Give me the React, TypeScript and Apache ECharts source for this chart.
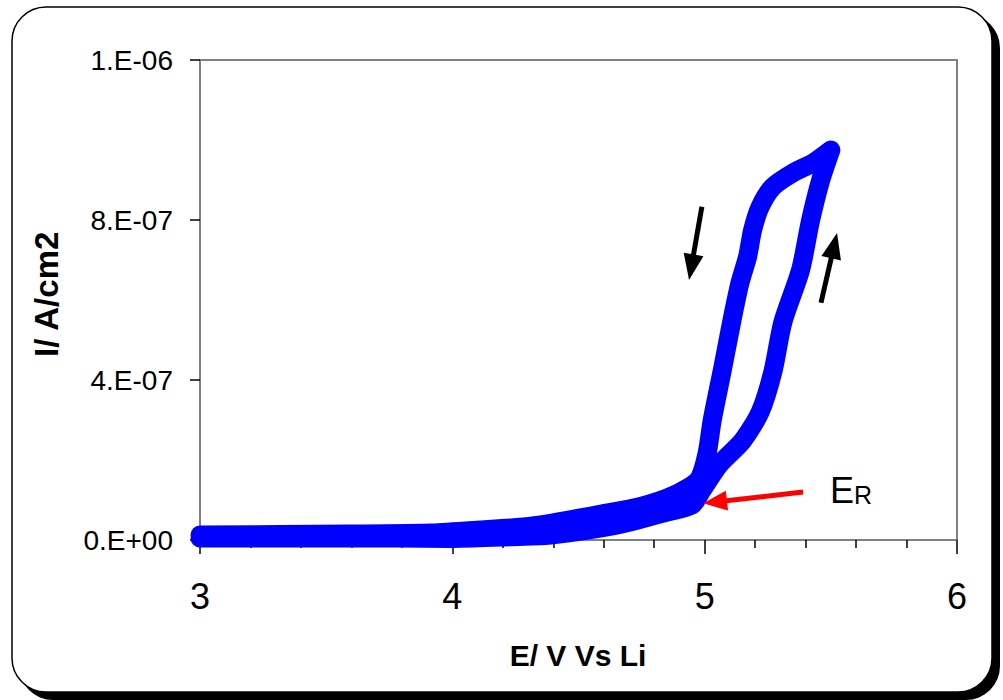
import React, { useEffect, useRef } from "react";
import * as echarts from "echarts";

// Anodic scan (3 V -> 5.5 V), potential in V and current density in A/cm2
const forwardE = [3.0, 3.4, 3.79, 3.99, 4.19, 4.39, 4.59, 4.72, 4.85, 4.95, 4.99, 5.06, 5.15, 5.22, 5.27, 5.31, 5.38, 5.42, 5.46, 5.5];
const forwardI = [5e-9, 5e-9, 5e-9, 4e-9, 7.5e-9, 1.25e-8, 3.0e-8, 4.75e-8, 7.0e-8, 8.75e-8, 1.25e-7, 1.9e-7, 2.48e-7, 3.2e-7, 4.2e-7, 5.45e-7, 6.75e-7, 8.0e-7, 9.0e-7, 9.75e-7];

// Cathodic scan (5.5 V -> 3 V)
const reverseE = [5.43, 5.35, 5.27, 5.22, 5.19, 5.17, 5.14, 5.11, 5.07, 5.03, 5.01, 4.98, 4.94, 4.85, 4.72, 4.59, 4.32, 4.11, 3.92, 3.59, 3.0];
const reverseI = [9.43e-7, 9.18e-7, 8.83e-7, 8.33e-7, 7.75e-7, 7.08e-7, 6.43e-7, 5.55e-7, 4.25e-7, 3.0e-7, 2.18e-7, 1.55e-7, 1.33e-7, 1.05e-7, 8.0e-8, 6.5e-8, 3.5e-8, 2.5e-8, 1.75e-8, 1.5e-8, 1.25e-8];

// Scan-direction arrows and the E_R pointer: [startE, startI, headE, headI]
const downArrow = [4.989, 8.33e-7, 4.947, 6.82e-7];
const upArrow = [5.461, 5.93e-7, 5.513, 7.36e-7];
const erArrow = [5.39, 1.2e-7, 5.041, 9.5e-8];

const xMin = 3;
const xMax = 6;
const yMax = 1.2e-6;
const yStep = 4e-7;

const FONT = "'Liberation Sans', Arial, sans-serif";

function sciLabel(v: number): string {
  if (Math.abs(v) < 1e-15) return "0.E+00";
  let e = Math.floor(Math.log10(Math.abs(v)));
  let m = Math.round(v / Math.pow(10, e));
  if (m >= 10) {
    m = 1;
    e += 1;
  }
  const sign = e < 0 ? "-" : "+";
  return `${m}.E${sign}${String(Math.abs(e)).padStart(2, "0")}`;
}

function arrowLine(a: number[], color: string, head: number[]) {
  return [
    { coord: [a[0], a[1]], symbol: "none" },
    { coord: [a[2], a[3]], symbol: "triangle", symbolSize: head, lineStyle: { color, width: 5, type: "solid" } },
  ];
}

export default function App() {
  const ref = useRef<HTMLDivElement>(null);

  useEffect(() => {
    if (!ref.current) return;
    const chart = echarts.init(ref.current, null, { renderer: "svg" });

    const loop: number[][] = [];
    forwardE.forEach((e, i) => loop.push([e, forwardI[i]]));
    reverseE.forEach((e, i) => loop.push([e, reverseI[i]]));

    chart.setOption({
      animation: false,
      backgroundColor: "#ffffff",
      graphic: [
        {
          type: "rect",
          z: -10,
          shape: { x: 19, y: 14, width: 981, height: 686, r: 34 },
          style: { fill: "#000000" },
          silent: true,
        },
        {
          type: "rect",
          z: -9,
          shape: { x: 12, y: 7, width: 980, height: 685, r: 34 },
          style: { fill: "#ffffff", stroke: "#000000", lineWidth: 1.5 },
          silent: true,
        },
        {
          type: "text",
          x: 578,
          y: 655,
          style: {
            text: "E/ V Vs Li",
            font: `bold 30px ${FONT}`,
            fill: "#000000",
            align: "center",
            verticalAlign: "middle",
          },
        },
        {
          type: "text",
          x: 46,
          y: 357,
          rotation: Math.PI / 2,
          style: {
            text: "I/ A/cm2",
            font: `bold 33px ${FONT}`,
            fill: "#000000",
            align: "left",
            verticalAlign: "middle",
          },
        },
        {
          type: "text",
          x: 830,
          y: 508,
          style: {
            text: "{e|E}{r|R}",
            fill: "#000000",
            align: "left",
            verticalAlign: "bottom",
            rich: {
              e: { fontFamily: FONT, fontSize: 36, verticalAlign: "bottom", fill: "#000000" },
              r: { fontFamily: FONT, fontSize: 25, verticalAlign: "bottom", fill: "#000000", padding: [0, 0, 1, 0] },
            },
          },
        },
      ],
      grid: {
        left: 200,
        top: 60,
        width: 757,
        height: 480,
        show: true,
        borderColor: "#808080",
        borderWidth: 2,
        backgroundColor: "transparent",
      },
      xAxis: {
        type: "value",
        min: xMin,
        max: xMax,
        interval: 1,
        axisLine: { show: true, onZero: false, lineStyle: { color: "#808080", width: 2 } },
        axisTick: { show: true, length: 14, lineStyle: { color: "#000000", width: 1.5 } },
        minorTick: { show: true, splitNumber: 5, length: 8, lineStyle: { color: "#000000", width: 1.5 } },
        splitLine: { show: false },
        axisLabel: { fontFamily: FONT, fontSize: 36, color: "#000000", margin: 38 },
      },
      yAxis: {
        type: "value",
        min: 0,
        max: yMax,
        interval: yStep,
        axisLine: { show: true, lineStyle: { color: "#808080", width: 2 } },
        axisTick: { show: true, length: 10, lineStyle: { color: "#000000", width: 1.5 } },
        splitLine: { show: false },
        axisLabel: {
          fontFamily: FONT,
          fontSize: 28,
          color: "#000000",
          margin: 27,
          formatter: (v: number) => sciLabel(v),
        },
      },
      series: [
        {
          type: "line",
          data: loop,
          showSymbol: false,
          symbol: "none",
          smooth: 0.25,
          lineStyle: { color: "#0000ff", width: 19, cap: "round", join: "round" },
          silent: true,
          z: 2,
        },
        {
          type: "line",
          data: [],
          silent: true,
          z: 5,
          markLine: {
            silent: true,
            animation: false,
            label: { show: false },
            emphasis: { disabled: true },
            data: [
              arrowLine(downArrow, "#000000", [20, 26]),
              arrowLine(upArrow, "#000000", [20, 26]),
              arrowLine(erArrow, "#ff0000", [20, 24]),
            ],
          },
        },
      ],
    });

    return () => chart.dispose();
  }, []);

  return (
    <div
      ref={ref}
      style={{ position: "fixed", left: 0, top: 0, width: 1003, height: 700, background: "#ffffff" }}
    />
  );
}
